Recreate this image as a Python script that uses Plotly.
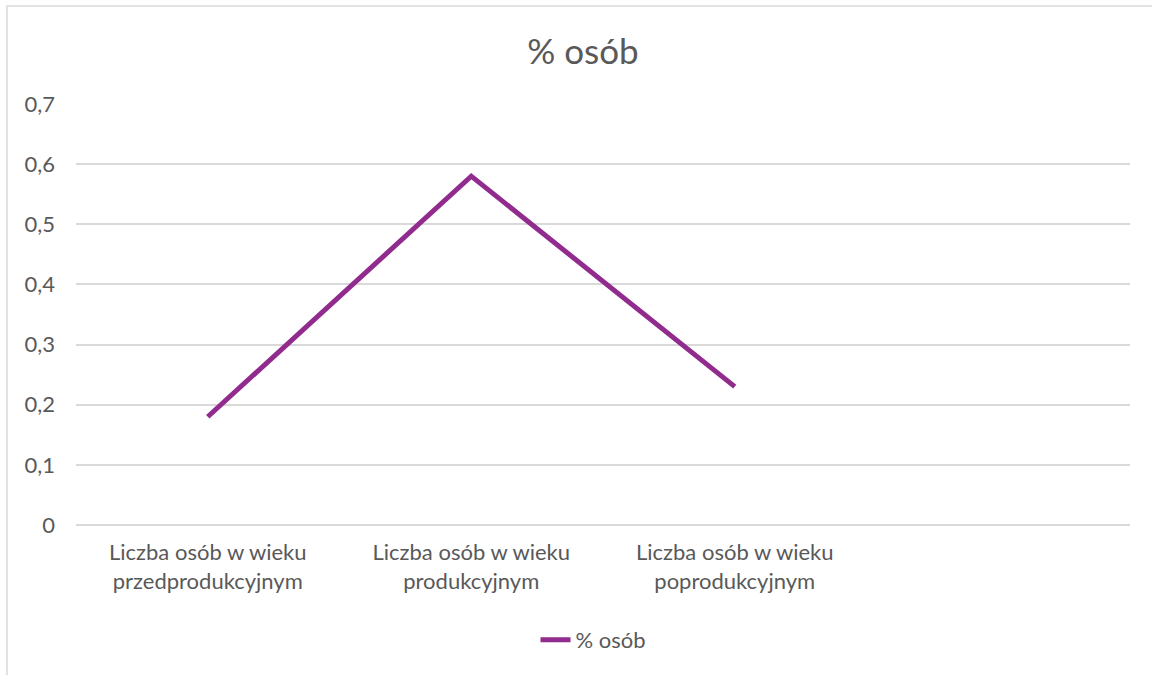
import plotly.graph_objects as go

categories = [
    "Liczba osób w wieku<br>przedprodukcyjnym",
    "Liczba osób w wieku<br>produkcyjnym",
    "Liczba osób w wieku<br>poprodukcyjnym",
    " ",
]
series_name = "% osób"
values = [0.18, 0.58, 0.23]

FONT = "Lato"
GREY = "#595959"

fig = go.Figure()
fig.add_trace(go.Scatter(
    x=categories[:len(values)], y=values, mode="lines", name=series_name,
    line=dict(color="#922B8E", width=5),
))

fig.update_layout(
    width=1152, height=675,
    paper_bgcolor="white", plot_bgcolor="white",
    margin=dict(l=76, r=22, t=104, b=150),
    separators=", ",
    font=dict(family=FONT, color=GREY, size=22),
    title=dict(text="% osób", x=583 / 1152, xref="container", xanchor="center",
               y=1 - 52 / 675, yanchor="middle",
               font=dict(family=FONT, size=35, color=GREY)),
    showlegend=True,
    legend=dict(orientation="h", x=0.491, xanchor="center", y=-0.273, yanchor="middle",
                font=dict(family=FONT, size=22, color=GREY)),
    xaxis=dict(type="category", categoryorder="array", categoryarray=categories,
               range=[-0.5, 3.5], showgrid=False, zeroline=False, showline=False,
               ticks="", ticklabelstandoff=12,
               tickfont=dict(family=FONT, size=22, color=GREY)),
    yaxis=dict(range=[0, 0.7], dtick=0.1, tick0=0, showgrid=True, gridcolor="#d9d9d9",
               gridwidth=1.5, zeroline=True, zerolinecolor="#d9d9d9", zerolinewidth=1.5,
               showline=False, ticks="", ticklabelstandoff=20,
               tickfont=dict(family=FONT, size=22, color=GREY)),
    shapes=[dict(type="rect", xref="paper", yref="paper",
                 x0=(7 - 76) / 1054, x1=1.2, y0=-0.6, y1=(525 - 6) / 421,
                 line=dict(color="#d9d9d9", width=1.5), fillcolor="rgba(0,0,0,0)",
                 layer="below")],
)

fig.write_html(
    "out.html",
    config={"displayModeBar": False},
    post_script="document.body.style.margin='0';document.body.style.overflow='hidden';",
)
